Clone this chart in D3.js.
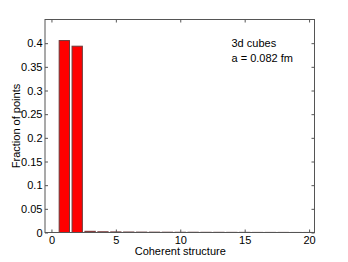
<!DOCTYPE html>
<html><head><meta charset="utf-8">
<script src="https://cdn.jsdelivr.net/npm/d3@7"></script>
<style>body{margin:0;background:#fff}svg{display:block}text{font-family:"Liberation Sans",Arial,sans-serif}</style>
</head><body>
<svg id="c" width="348" height="262"></svg>
<script>
const categories = d3.range(1, 21);
const values = [0.4055, 0.3936, 0.0025, 0.0015, 0.0012, 0.001, 0.0008, 0.0007, 0.0006, 0.0005, 0.0005, 0.0004, 0.0004, 0.0003, 0.0003, 0.0002, 0.0002, 0.0002, 0.0001, 0.0001];
const xTicks = [0, 5, 10, 15, 20];
const yTicks = [0, 0.05, 0.1, 0.15, 0.2, 0.25, 0.3, 0.35, 0.4];
const annotation = ["3d cubes", "a = 0.082 fm"];

const svg = d3.select("#c");
const L = 45, R = 314.5, T = 19.5, B = 232.5;
const x = d3.scaleLinear().domain([-0.5, 20.42]).range([L, R]);
const y = d3.scaleLinear().domain([0, 0.45]).range([B, T]);
const axisCol = "#555";

svg.append("g").selectAll("rect").data(categories).join("rect")
  .attr("x", d => x(d - 0.4))
  .attr("width", d => x(d + 0.4) - x(d - 0.4))
  .attr("y", (d, i) => y(values[i]))
  .attr("height", (d, i) => B - y(values[i]))
  .attr("fill", "#ff0000").attr("stroke", "#6b3a3a").attr("stroke-width", 1);

svg.append("rect").attr("x", L).attr("y", T).attr("width", R - L).attr("height", B - T)
  .attr("fill", "none").attr("stroke", axisCol).attr("stroke-width", 1);

const xa = svg.append("g").attr("transform", `translate(0,${B})`)
  .call(d3.axisBottom(x).tickValues(xTicks).tickSize(-3).tickPadding(3.5).tickFormat(d3.format("d")));
const xt = svg.append("g").attr("transform", `translate(0,${T})`)
  .call(d3.axisTop(x).tickValues(xTicks).tickSize(-3).tickFormat(""));
const ya = svg.append("g").attr("transform", `translate(${L},0)`)
  .call(d3.axisLeft(y).tickValues(yTicks).tickSize(-3).tickPadding(2.5).tickFormat(d => d3.format("")(+d.toFixed(2))));
const yr = svg.append("g").attr("transform", `translate(${R},0)`)
  .call(d3.axisRight(y).tickValues(yTicks).tickSize(-3).tickFormat(""));
[xa, xt, ya, yr].forEach(g => {
  g.select(".domain").remove();
  g.selectAll("line").attr("stroke", axisCol);
  g.selectAll("text").attr("font-size", 11).attr("fill", "#000")
    .attr("font-family", "'Liberation Sans',Arial,sans-serif");
});

svg.append("text").attr("x", (L + R) / 2 + 0.5).attr("y", 255).attr("text-anchor", "middle")
  .attr("font-size", 11).text("Coherent structure");
svg.append("text").attr("transform", `translate(20,${(T + B) / 2}) rotate(-90)`).attr("text-anchor", "middle")
  .attr("font-size", 11).text("Fraction of points");

svg.append("g").selectAll("text").data(annotation).join("text")
  .attr("x", 231.5).attr("y", (d, i) => 47 + i * 15).attr("font-size", 11).text(d => d);
</script>
</body></html>
